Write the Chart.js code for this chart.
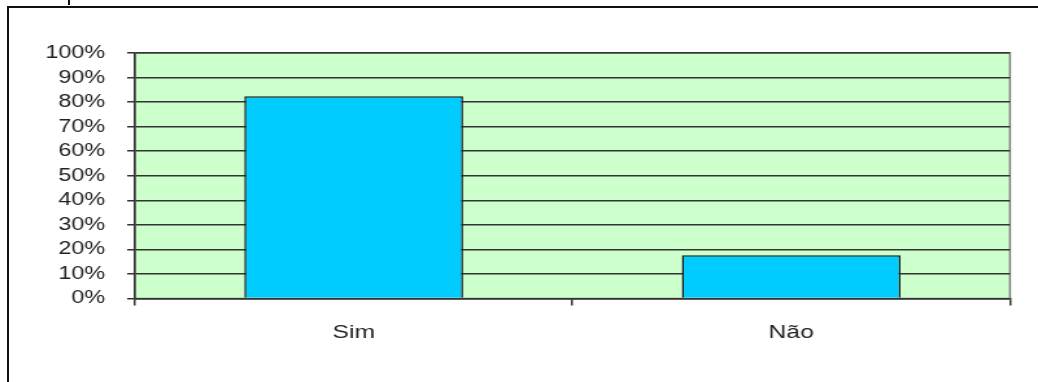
<!DOCTYPE html>
<html>
<head>
<meta charset="utf-8">
<script src="https://cdn.jsdelivr.net/npm/chart.js@4/dist/chart.umd.min.js"></script>
<style>
  body { margin: 0; background: #fff; overflow: hidden; }
  #frame { position: absolute; left: 7px; top: 6px; width: 2000px; height: 2000px; border: 2px solid #111; }
  #mark { position: absolute; left: 68px; top: 0; width: 2px; height: 5px; background: #111; }
  #wrap { position: absolute; left: 0; top: 0; }
</style>
</head>
<body>
<div id="frame"></div>
<div id="mark"></div>
<!-- the original picture is stretched sideways, so the canvas is drawn narrow and widened -->
<div id="wrap"><canvas id="chart" width="800" height="382" style="width:1038px;height:382px"></canvas></div>
<script>
const categories = ['Sim', 'Não'];
const values = [82.4, 17.6];
const yMax = 100;
const yStep = 10;

// fill the plot area green and give it a grey border, like the old Excel chart
const plotBackground = {
  id: 'plotBackground',
  beforeDraw(chart) {
    const { ctx, chartArea } = chart;
    ctx.save();
    ctx.fillStyle = '#ccffcc';
    ctx.fillRect(chartArea.left, chartArea.top, chartArea.width, chartArea.height);
    ctx.strokeStyle = '#808080';
    ctx.lineWidth = 1.5;
    ctx.strokeRect(chartArea.left, chartArea.top, chartArea.width, chartArea.height);
    ctx.restore();
  }
};

const ctx = document.getElementById('chart').getContext('2d');

new Chart(ctx, {
  type: 'bar',
  data: {
    labels: categories,
    datasets: [{
      data: values,
      backgroundColor: '#00ccff',
      borderColor: '#1a1a1a',
      borderWidth: 1.5,
      barPercentage: 0.5,
      categoryPercentage: 1.0
    }]
  },
  options: {
    responsive: false,
    animation: false,
    layout: {
      padding: { left: 0, right: 21.6, top: 53, bottom: 0 }
    },
    plugins: {
      legend: { display: false },
      tooltip: { enabled: false }
    },
    scales: {
      x: {
        grid: {
          offset: true,
          drawOnChartArea: false,
          tickLength: 7,
          color: '#333',
          lineWidth: 1.5
        },
        border: { color: '#333', width: 1.5 },
        ticks: {
          color: '#222',
          padding: 16,
          font: { family: 'Liberation Sans, Arial', size: 19 }
        },
        afterFit(scale) { scale.height = 83.5; }
      },
      y: {
        min: 0,
        max: yMax,
        grid: {
          color: '#333',
          lineWidth: 1.5,
          tickLength: 6
        },
        border: { color: '#333', width: 1.5 },
        ticks: {
          stepSize: yStep,
          autoSkip: false,
          color: '#222',
          padding: 17,
          font: { family: 'Liberation Sans, Arial', size: 18 },
          callback: (v) => v + '%'
        },
        afterFit(scale) { scale.width = 104; }
      }
    }
  },
  plugins: [plotBackground]
});
</script>
</body>
</html>
